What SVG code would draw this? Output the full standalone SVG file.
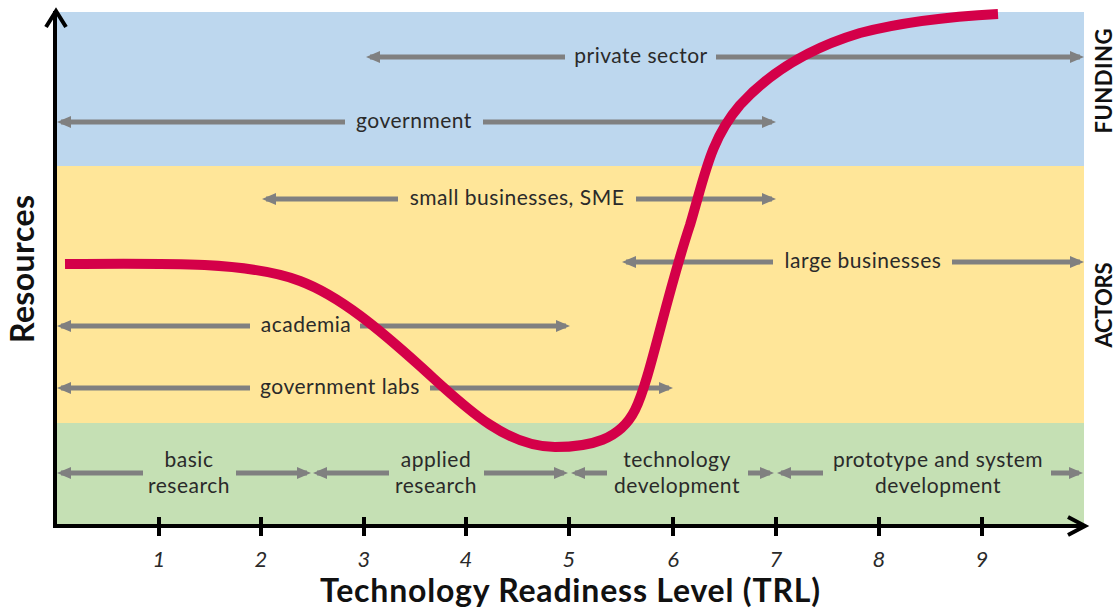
<svg xmlns="http://www.w3.org/2000/svg" width="1117" height="615" viewBox="0 0 1117 615">
<style>
.lbl{font-family:Lato,"Open Sans","Liberation Sans",sans-serif;font-size:21px;letter-spacing:0.5px;fill:#2a2a2a;text-anchor:middle}
.tick{font-family:Lato,"Open Sans","Liberation Sans",sans-serif;font-size:22px;font-style:italic;fill:#2a2a2a;text-anchor:middle}
.side{font-family:Lato,"Open Sans","Liberation Sans",sans-serif;font-size:22px;font-weight:bold;fill:#111;text-anchor:middle}
.title{font-family:Lato,"Open Sans","Liberation Sans",sans-serif;font-size:32px;font-weight:bold;fill:#111;text-anchor:middle}
.arr{stroke:#808080;stroke-width:5;fill:none}
.ax{stroke:#000;stroke-width:4;fill:none}
</style>
<defs>
<marker id="ah" viewBox="0 0 14 12" refX="10" refY="6" markerWidth="14" markerHeight="12" markerUnits="userSpaceOnUse" orient="auto-start-reverse">
<path d="M0,0 L14,6 L0,12 Z" fill="#808080"/>
</marker>
</defs>
<g id="bands">
<rect x="57" y="12" width="1027" height="154" fill="#bdd7ee"/>
<rect x="57" y="166" width="1027" height="257" fill="#ffe699"/>
<rect x="57" y="423" width="1027" height="103" fill="#c5e0b4"/>
</g>
<g id="connectors">
<line class="arr" x1="370" y1="57" x2="565" y2="57" marker-start="url(#ah)"/>
<line class="arr" x1="716" y1="57" x2="1080" y2="57" marker-end="url(#ah)"/>
<line class="arr" x1="61" y1="122" x2="345" y2="122" marker-start="url(#ah)"/>
<line class="arr" x1="483" y1="122" x2="772" y2="122" marker-end="url(#ah)"/>
<line class="arr" x1="266" y1="199" x2="398" y2="199" marker-start="url(#ah)"/>
<line class="arr" x1="636" y1="199" x2="772" y2="199" marker-end="url(#ah)"/>
<line class="arr" x1="626" y1="262" x2="773" y2="262" marker-start="url(#ah)"/>
<line class="arr" x1="952" y1="262" x2="1080" y2="262" marker-end="url(#ah)"/>
<line class="arr" x1="61" y1="326" x2="250" y2="326" marker-start="url(#ah)"/>
<line class="arr" x1="360" y1="326" x2="566" y2="326" marker-end="url(#ah)"/>
<line class="arr" x1="61" y1="388" x2="250" y2="388" marker-start="url(#ah)"/>
<line class="arr" x1="430" y1="388" x2="669" y2="388" marker-end="url(#ah)"/>
<line class="arr" x1="61" y1="473" x2="143" y2="473" marker-start="url(#ah)"/>
<line class="arr" x1="236" y1="473" x2="307" y2="473" marker-end="url(#ah)"/>
<line class="arr" x1="317" y1="473" x2="389" y2="473" marker-start="url(#ah)"/>
<line class="arr" x1="484" y1="473" x2="564" y2="473" marker-end="url(#ah)"/>
<line class="arr" x1="575" y1="473" x2="607" y2="473" marker-start="url(#ah)"/>
<line class="arr" x1="748" y1="473" x2="770" y2="473" marker-end="url(#ah)"/>
<line class="arr" x1="781" y1="473" x2="823" y2="473" marker-start="url(#ah)"/>
<line class="arr" x1="1051" y1="473" x2="1079" y2="473" marker-end="url(#ah)"/>
</g>
<g id="curve">
<path d="M65,264 C170,263 250,262 300,281 C340,296 380,330 420,366 C460,402 503,447 555,447 C590,447 620,440 635,410 C650,380 665,300 690,225 C705,175 710,140 740,105 C770,72 810,48 860,33 C910,20 960,16 998,14" fill="none" stroke="#d40049" stroke-width="10"/>
</g>
<g id="axes">
<line class="ax" x1="55" y1="11" x2="55" y2="528"/>
<polyline class="ax" points="46,27 56,11 66,27"/>
<line class="ax" x1="53" y1="526" x2="1083" y2="526"/>
<polyline class="ax" points="1068,517 1085,526 1068,535"/>
<g id="ticks" stroke="#000" stroke-width="4">
<line x1="159" y1="517" x2="159" y2="536"/>
<line x1="261" y1="517" x2="261" y2="536"/>
<line x1="364" y1="517" x2="364" y2="536"/>
<line x1="466" y1="517" x2="466" y2="536"/>
<line x1="569" y1="517" x2="569" y2="536"/>
<line x1="673" y1="517" x2="673" y2="536"/>
<line x1="776" y1="517" x2="776" y2="536"/>
<line x1="879" y1="517" x2="879" y2="536"/>
<line x1="982" y1="517" x2="982" y2="536"/>
</g>
</g>
<g id="tick-labels">
<text class="tick" x="159" y="567">1</text>
<text class="tick" x="261" y="567">2</text>
<text class="tick" x="364" y="567">3</text>
<text class="tick" x="466" y="567">4</text>
<text class="tick" x="569" y="567">5</text>
<text class="tick" x="673" y="567">6</text>
<text class="tick" x="776" y="567">7</text>
<text class="tick" x="879" y="567">8</text>
<text class="tick" x="982" y="567">9</text>
</g>
<g id="node-private-sector"><text class="lbl" x="641" y="63">private sector</text></g>
<g id="node-government"><text class="lbl" x="414" y="128">government</text></g>
<g id="node-small-businesses"><text class="lbl" x="517" y="205">small businesses, SME</text></g>
<g id="node-large-businesses"><text class="lbl" x="863" y="268">large businesses</text></g>
<g id="node-academia"><text class="lbl" x="306" y="332">academia</text></g>
<g id="node-government-labs"><text class="lbl" x="340" y="394">government labs</text></g>
<g id="node-basic-research"><text class="lbl" x="189" y="467">basic</text><text class="lbl" x="189" y="493">research</text></g>
<g id="node-applied-research"><text class="lbl" x="436" y="467">applied</text><text class="lbl" x="436" y="493">research</text></g>
<g id="node-technology-development"><text class="lbl" x="677" y="467">technology</text><text class="lbl" x="677" y="493">development</text></g>
<g id="node-prototype"><text class="lbl" x="938" y="467">prototype and system</text><text class="lbl" x="938" y="493">development</text></g>
<g id="axis-titles">
<text class="title" x="570" y="602" textLength="500" lengthAdjust="spacing">Technology Readiness Level (TRL)</text>
<text class="title" transform="translate(34,269) rotate(-90)" textLength="148" lengthAdjust="spacing">Resources</text>
<text class="side" transform="translate(1112,81) rotate(-90)" textLength="105" lengthAdjust="spacing">FUNDING</text>
<text class="side" transform="translate(1112,305) rotate(-90)" textLength="85" lengthAdjust="spacing">ACTORS</text>
</g>
</svg>
